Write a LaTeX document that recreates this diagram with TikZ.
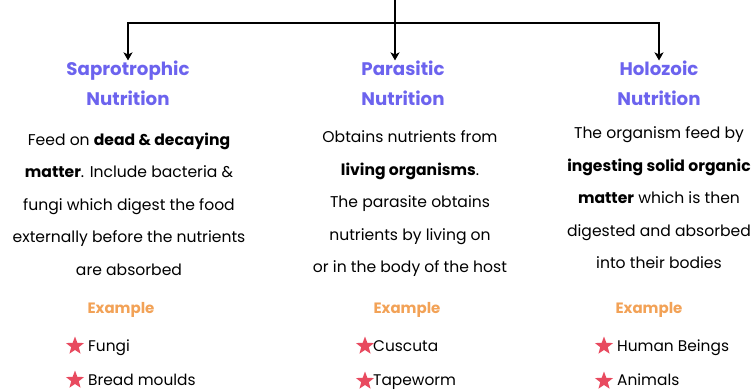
\documentclass[tikz,border=0pt]{standalone}
\usepackage{fontspec}
\setmainfont{Poppins}
\usetikzlibrary{arrows.meta,shapes.geometric}
\definecolor{headblue}{HTML}{6C63EE}
\definecolor{exorange}{HTML}{F2A257}
\definecolor{starred}{HTML}{E84A5F}

\begin{document}
\begin{tikzpicture}[x=1pt,y=-1pt,
  head/.style={text=headblue,font=\fontsize{18.2}{30}\selectfont\bfseries,align=center,inner sep=0pt},
  body/.style={font=\fontsize{15.6}{32.5}\selectfont,align=center,inner sep=0pt},
  exhead/.style={text=exorange,font=\fontsize{15}{18}\selectfont\bfseries,inner sep=0pt},
  item/.style={font=\fontsize{15.4}{18}\selectfont,anchor=base west,inner sep=0pt},
  staricon/.style={star,star points=5,star point ratio=2.4,fill=starred,inner sep=0pt,minimum size=19pt},
  link/.style={line width=1.4pt,-{Stealth[length=8pt,width=9pt,inset=2pt]}}]
  \useasboundingbox (0,0) rectangle (754,391);
  \coordinate (root) at (395,0);
  \coordinate (split) at (395,23);
  % headings
  \node[head] (sap) at (128,83) {Saprotrophic\\Nutrition};
  \node[head] (par) at (403,83) {Parasitic\\Nutrition};
  \node[head] (hol) at (659,83) {Holozoic\\Nutrition};
  % connectors
  \draw[line width=1.4pt] (root) -- (split);
  \draw[link] (split) -| (sap.north);
  \draw[link] (split) -- (split |- par.north);
  \draw[link] (split) -| (hol.north);
  % descriptions
  \node[body] (sapdesc) at (129,204) {Feed on \textbf{dead \& decaying}\\
    \textbf{matter}. Include bacteria \&\\fungi which digest the food\\
    externally before the nutrients\\are absorbed};
  \node[body] (pardesc) at (410,204) {Obtains nutrients from\\
    \textbf{living organisms}.\\The parasite obtains\\
    nutrients by living on\\or in the body of the host};
  \node[body] (holdesc) at (659,198) {The organism feed by\\
    \textbf{ingesting solid organic}\\\textbf{matter} which is then\\
    digested and absorbed\\into their bodies};
  % examples
  \node[exhead] (sapex) at (121,310) {Example};
  \node[exhead] (parex) at (407,310) {Example};
  \node[exhead] (holex) at (649,310) {Example};
  \node[staricon] (sapstar1) at (75,346) {};
  \node[staricon] (sapstar2) at (75,380) {};
  \node[staricon] (parstar1) at (365,346) {};
  \node[staricon] (parstar2) at (365,381) {};
  \node[staricon] (holstar1) at (604,346) {};
  \node[staricon] (holstar2) at (604,381) {};
  \node[item] (fungi) at (88,351) {Fungi};
  \node[item] (bread) at (88,385) {Bread moulds};
  \node[item] (cuscuta) at (373,351) {Cuscuta};
  \node[item] (tapeworm) at (373,385) {Tapeworm};
  \node[item] (human) at (617,351) {Human Beings};
  \node[item] (animals) at (617,385) {Animals};
\end{tikzpicture}
\end{document}
